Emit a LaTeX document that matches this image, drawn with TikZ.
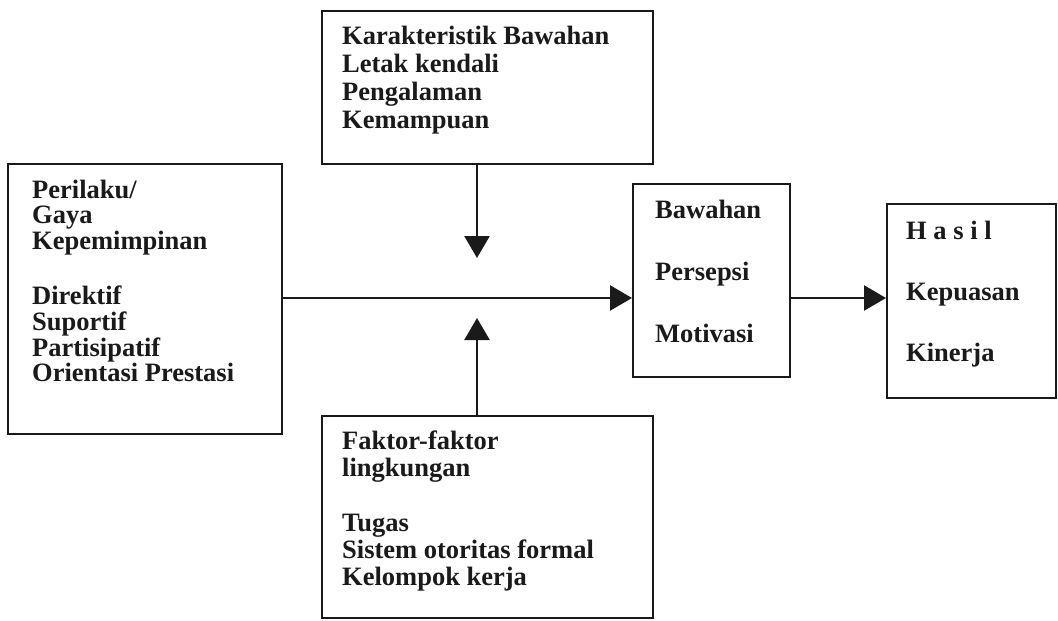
\documentclass[tikz,border=0pt]{standalone}
\usepackage{fontspec}
\setmainfont{Liberation Serif}
\usetikzlibrary{arrows.meta}
\definecolor{ink}{HTML}{1A1A1A}
\begin{document}
\begin{tikzpicture}[x=1pt,y=-1pt,
  box/.style={draw=ink, line width=1.9pt, inner sep=0pt, anchor=north west},
  lbl/.style={anchor=base west, inner sep=0pt, align=left, text=ink},
  conn/.style={draw=ink, line width=2.5pt, -{Triangle[length=22pt,width=25pt]}}]
\useasboundingbox (0,0) rectangle (1058,621);
% boxes
\node[box, minimum width=274pt, minimum height=270pt] (lead) at (7,163) {};
\node[box, minimum width=331pt, minimum height=153pt] (sub) at (321,10) {};
\node[box, minimum width=331pt, minimum height=202pt] (env) at (321,415) {};
\node[box, minimum width=157pt, minimum height=193pt] (mid) at (632,183) {};
\node[box, minimum width=169pt, minimum height=194pt] (out) at (886,203) {};
% texts (anchored at the baseline of their last line)
\node[lbl, font=\fontsize{26.5}{25.7}\selectfont\bfseries] (leadtxt) at (32,381.7)
  {Perilaku/\\Gaya\\Kepemimpinan\\[29.3pt]Direktif\\Suportif\\Partisipatif\\Orientasi Prestasi};
\node[lbl, font=\fontsize{26.5}{27.8}\selectfont\bfseries] (subtxt) at (342,128.3)
  {Karakteristik Bawahan\\Letak kendali\\Pengalaman\\Kemampuan};
\node[lbl, font=\fontsize{26.5}{27}\selectfont\bfseries] (envtxt) at (342,585)
  {Faktor-faktor\\lingkungan\\[28pt]Tugas\\Sistem otoritas formal\\Kelompok kerja};
\node[lbl, font=\fontsize{26.5}{62}\selectfont\bfseries] (midtxt) at (655,342)
  {Bawahan\\Persepsi\\Motivasi};
\node[lbl, font=\fontsize{26.5}{61}\selectfont\bfseries] (outtxt) at (906,361.7)
  {H a s i l\\Kepuasan\\Kinerja};
% connectors
\coordinate (dtip) at (477,258);
\coordinate (utip) at (477,318);
\coordinate (flow) at (0,298);
\draw[conn] (lead.east |- flow) -- (mid.west |- flow);
\draw[conn] (mid.east |- flow) -- (out.west |- flow);
\draw[conn] (sub.south -| dtip) -- (dtip);
\draw[conn] (env.north -| utip) -- (utip);
\end{tikzpicture}
\end{document}
